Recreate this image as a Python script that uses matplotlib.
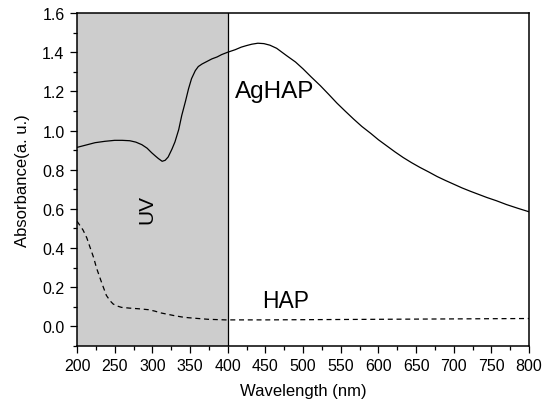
import matplotlib
matplotlib.use("Agg")
import matplotlib.pyplot as plt
from matplotlib.ticker import MultipleLocator, FormatStrFormatter

# AgHAP absorbance
ag_wl = [200, 212, 224, 237, 250, 260, 270, 278, 286, 293, 299, 304, 308,
         313, 317, 321, 326, 330, 335, 339, 344, 348, 352, 357, 361, 366,
         372, 379, 386, 392, 400, 410, 418, 425, 432, 440, 448, 456, 465,
         478, 490, 500, 511, 523, 534, 545, 556, 567, 578, 590, 600, 611,
         622, 633, 644, 655, 667, 678, 689, 700, 711, 722, 733, 744, 757,
         770, 785, 800]
ag_abs = [0.914, 0.926, 0.938, 0.945, 0.950, 0.950, 0.948, 0.941, 0.928,
          0.910, 0.887, 0.870, 0.857, 0.843, 0.848, 0.865, 0.905, 0.942,
          1.005, 1.077, 1.150, 1.213, 1.265, 1.306, 1.327, 1.340, 1.352,
          1.366, 1.376, 1.388, 1.400, 1.413, 1.426, 1.434, 1.441, 1.446,
          1.444, 1.436, 1.420, 1.383, 1.350, 1.315, 1.273, 1.229, 1.185,
          1.140, 1.099, 1.059, 1.021, 0.985, 0.953, 0.922, 0.891, 0.862,
          0.836, 0.812, 0.788, 0.765, 0.745, 0.726, 0.707, 0.690, 0.674,
          0.658, 0.641, 0.622, 0.603, 0.585]

# HAP absorbance
hap_wl = [200, 208, 213, 217, 222, 226, 233, 239, 244, 248, 254, 259, 270,
          281, 295, 303, 312, 321, 330, 339, 348, 361, 374, 397, 450, 500,
          600, 700, 800]
hap_abs = [0.537, 0.492, 0.452, 0.407, 0.352, 0.297, 0.220, 0.158, 0.130,
           0.114, 0.103, 0.097, 0.093, 0.090, 0.085, 0.078, 0.068, 0.061,
           0.054, 0.048, 0.044, 0.040, 0.036, 0.033, 0.033, 0.034, 0.036,
           0.038, 0.040]

uv_band = (200, 400)

plt.rcParams["font.family"] = ["Liberation Sans", "DejaVu Sans"]

fig = plt.figure(figsize=(5.5, 4.02), dpi=100)
ax = fig.add_axes([0.14, 0.137, 0.822, 0.828])

ax.axvspan(uv_band[0], uv_band[1], color="#cdcdcd", lw=0, zorder=0)
ax.axvline(uv_band[1], color="black", lw=0.9, zorder=1)

ax.plot(ag_wl, ag_abs, color="black", lw=0.9, zorder=2)
ax.plot(hap_wl, hap_abs, color="black", lw=0.9, ls=(0, (4, 3)), zorder=2)

ax.text(409, 1.20, "AgHAP", fontsize=17.5, ha="left", va="center")
ax.text(446, 0.134, "HAP", fontsize=16.5, ha="left", va="center")
ax.text(292.5, 0.604, "UV", fontsize=15, rotation=90, ha="center",
        va="center")

ax.set_xlim(200, 800)
ax.set_ylim(-0.1, 1.6)
ax.xaxis.set_major_locator(MultipleLocator(50))
ax.xaxis.set_minor_locator(MultipleLocator(25))
ax.yaxis.set_major_locator(MultipleLocator(0.2))
ax.yaxis.set_minor_locator(MultipleLocator(0.1))
ax.yaxis.set_major_formatter(FormatStrFormatter("%.1f"))
ax.tick_params(which="major", direction="out", length=5, width=0.9,
               labelsize=11.5, pad=4, top=False, right=False)
ax.tick_params(which="minor", direction="out", length=3, width=0.9,
               top=False, right=False)
for s in ax.spines.values():
    s.set_linewidth(1.1)

ax.set_xlabel("Wavelength (nm)", fontsize=12, labelpad=7)
ax.set_ylabel("Absorbance(a. u.)", fontsize=12, labelpad=9)

fig.savefig("out.png", dpi=100)
